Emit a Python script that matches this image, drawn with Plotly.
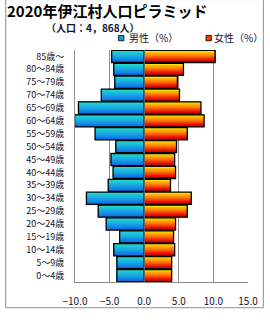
import plotly.graph_objects as go

# Data (bottom to top)
age_groups = ["0〜4歳", "5〜9歳", "10〜14歳", "15〜19歳", "20〜24歳", "25〜29歳",
              "30〜34歳", "35〜39歳", "40〜44歳", "45〜49歳", "50〜54歳", "55〜59歳",
              "60〜64歳", "65〜69歳", "70〜74歳", "75〜79歳", "80〜84歳", "85歳〜"]
male = [3.95, 3.95, 4.4, 3.55, 5.5, 6.65, 8.35, 5.2, 4.5, 4.8, 4.1, 7.1,
        10.05, 9.5, 6.2, 4.25, 4.4, 4.7]
female = [3.97, 3.97, 4.4, 4.25, 4.53, 6.23, 6.8, 3.8, 4.53, 4.4, 4.67, 6.23,
          8.65, 8.2, 5.1, 4.8, 5.67, 10.25]
x_ticks = [-10, -5, 0, 5, 10, 15]

title_text = "2020年伊江村人口ピラミッド"
subtitle_text = "（人口：4，868人）"
male_label = "男性（%）"
female_label = "女性（%）"

male_x = [-v for v in male]

FONT = "Noto Sans CJK JP"
TXT = "#10102a"

def lerp(c1, c2, t):
    return "rgb(%d,%d,%d)" % tuple(round(a + (b - a) * t) for a, b in zip(c1, c2))

def grad(stops, t):
    for (p0, c0), (p1, c1) in zip(stops, stops[1:]):
        if p0 <= t <= p1:
            return lerp(c0, c1, (t - p0) / (p1 - p0) if p1 > p0 else 0)
    return lerp(stops[-1][1], stops[-1][1], 0)

male_stops = [(0, (16, 104, 232)), (0.5, (24, 168, 226)), (1, (34, 216, 208))]
female_stops = [(0, (200, 0, 0)), (0.2, (235, 20, 0)), (0.55, (255, 120, 0)), (1, (255, 220, 0))]

W = 0.94
N = 12
fig = go.Figure()
for vals, stops in ((male_x, male_stops), (female, female_stops)):
    for i in range(N):
        off = -W / 2 + i * W / N
        t = i / (N - 1)
        fig.add_trace(go.Bar(
            y=age_groups, x=vals, orientation="h",
            offset=off, width=W / 2 - off,
            marker=dict(color=grad(stops, t), line=dict(width=0)),
            showlegend=False, hoverinfo="skip",
        ))
    fig.add_trace(go.Bar(
        y=age_groups, x=vals, orientation="h",
        offset=-W / 2, width=W,
        marker=dict(color="rgba(0,0,0,0)", line=dict(color="black", width=1.3)),
        showlegend=False, hoverinfo="x+y",
    ))

L, R, T, B = 75, 20, 50, 31
PW, PH = 270 - L - R, 320 - T - B

def px(x):
    return (x - L) / PW

def py(y):
    return (320 - B - y) / PH

shapes = [
    dict(type="line", xref="x", yref="paper", x0=0, x1=0, y0=0, y1=1,
         line=dict(color="#8c8c8c", width=1), layer="above"),
    dict(type="rect", xref="paper", yref="paper", x0=px(5), x1=px(265.5),
         y0=py(315.5), y1=py(-2), line=dict(color="#8c8c8c", width=1)),
    dict(type="rect", xref="paper", yref="paper", x0=px(119), x1=px(124.5),
         y0=py(40.5), y1=py(35), fillcolor="#1a9ae0", line=dict(color="black", width=0.8)),
    dict(type="rect", xref="paper", yref="paper", x0=px(207.5), x1=px(213),
         y0=py(40.5), y1=py(35), fillcolor="#f04000", line=dict(color="black", width=0.8)),
]

annotations = [
    dict(text="<b>" + subtitle_text + "</b>", xref="paper", yref="paper",
         x=px(44), y=py(27), xanchor="left", yanchor="middle", showarrow=False,
         font=dict(family=FONT, size=10, color=TXT)),
    dict(text=male_label, xref="paper", yref="paper",
         x=px(127.5), y=py(37.5), xanchor="left", yanchor="middle", showarrow=False,
         font=dict(family=FONT, size=10, color=TXT)),
    dict(text=female_label, xref="paper", yref="paper",
         x=px(214), y=py(37.5), xanchor="left", yanchor="middle", showarrow=False,
         font=dict(family=FONT, size=10, color=TXT)),
]

fig.update_layout(
    width=270, height=320,
    margin=dict(l=L, r=R, t=T, b=B, pad=0),
    paper_bgcolor="white", plot_bgcolor="white",
    barmode="overlay",
    showlegend=False,
    title=dict(text="<b>" + title_text + "</b>", x=7 / 270, xref="container",
               xanchor="left", y=1 - 12 / 320, yref="container", yanchor="middle",
               font=dict(family=FONT, size=15, color="black")),
    xaxis=dict(range=[-10, 15], tickvals=x_ticks, tickformat=".1f",
               showgrid=True, gridcolor="#8c8c8c", gridwidth=1,
               zeroline=False, showline=True, linecolor="#8c8c8c", linewidth=1,
               ticks="", ticklabelstandoff=10,
               tickfont=dict(family=FONT, size=10, color=TXT), fixedrange=True),
    yaxis=dict(type="category", categoryorder="array", categoryarray=age_groups,
               range=[-0.5, len(age_groups) - 0.5],
               showgrid=False, zeroline=False, showline=True, linecolor="#8c8c8c",
               linewidth=1, ticks="", ticklabelstandoff=8,
               tickfont=dict(family=FONT, size=9, color=TXT), fixedrange=True),
    shapes=shapes,
    annotations=annotations,
)

fig.write_html("out.html")
